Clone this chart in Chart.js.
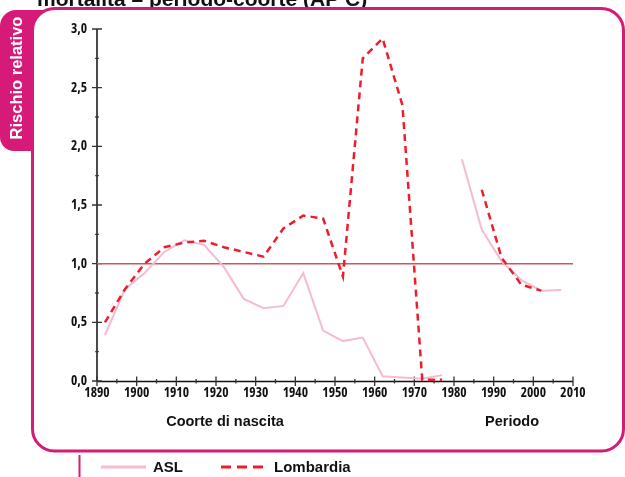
<!DOCTYPE html>
<html>
<head>
<meta charset="utf-8">
<script src="https://cdn.jsdelivr.net/npm/chart.js@4.4.1/dist/chart.umd.min.js"></script>
<style>
html,body{margin:0;padding:0;background:#fff;}
#wrap{position:relative;width:625px;height:477px;}
</style>
</head>
<body>
<div id="wrap"><canvas id="c" width="625" height="477"></canvas></div>
<script>
// ---- data ----
const cohortYears = [1892, 1897, 1902, 1907, 1912, 1917, 1922, 1927, 1932, 1937, 1942, 1947, 1952, 1957, 1962, 1967, 1972, 1977];
const aslCohort   = [0.39, 0.78, 0.92, 1.10, 1.20, 1.16, 0.97, 0.70, 0.62, 0.64, 0.92, 0.43, 0.34, 0.37, 0.04, 0.03, 0.02, 0.05];
const lomCohort   = [0.50, 0.78, 1.00, 1.14, 1.18, 1.195, 1.14, 1.10, 1.06, 1.30, 1.41, 1.385, 0.89, 2.75, 2.92, 2.35, 0.01, 0.01];
const periodYears = [1982, 1987, 1992, 1997, 2002, 2007];
const aslPeriod   = [1.89, 1.29, 1.02, 0.86, 0.77, 0.775];
const lomPeriod   = [null, 1.63, 1.05, 0.82, 0.77, null];
const xTicks = [1890, 1900, 1910, 1920, 1930, 1940, 1950, 1960, 1970, 1980, 1990, 2000, 2010];
const yTicks = [0, 0.5, 1.0, 1.5, 2.0, 2.5, 3.0];
const refValue = 1.0;
const seriesNames = ['ASL', 'Lombardia'];
const axisTitles = ['Coorte di nascita', 'Periodo'];
const tabTitle = 'Rischio relativo';
const chartTitle = 'mortalità – periodo-coorte (AP C)';

// ---- build ----
function pts(xs, ys){ return xs.map((x,i)=>({x:x, y:ys[i]})).filter(p=>p.y!==null); }
const gap = {x: 1979.5, y: null};
const aslData = pts(cohortYears, aslCohort).concat([gap], pts(periodYears, aslPeriod));
const lomData = pts(cohortYears, lomCohort).concat([gap], pts(periodYears, lomPeriod));
const refData = [{x: xTicks[0], y: refValue}, {x: xTicks[xTicks.length-1], y: refValue}];

const MAG = 'rgb(214,26,120)';
const PINK = 'rgb(246,186,212)';
const RED = 'rgb(236,30,45)';
const REF = 'rgb(214,84,84)';
const NARROW = '"Open Sans", "DejaVu Sans Condensed", sans-serif';
const SANS = '"Liberation Sans", Arial, sans-serif';

function rr(ctx, x, y, w, h, r){
  ctx.beginPath();
  ctx.roundRect(x, y, w, h, r);
}

const decor = {
  id: 'decor',
  beforeDraw(chart){
    const ctx = chart.ctx;
    ctx.save();
    ctx.fillStyle = '#fff';
    ctx.fillRect(0, 0, chart.width, chart.height);
    // title (clipped at top)
    ctx.fillStyle = '#111';
    ctx.font = 'bold 21px ' + SANS;
    ctx.textAlign = 'left';
    ctx.textBaseline = 'alphabetic';
    ctx.fillText(chartTitle, 37, 6);
    // tab
    ctx.fillStyle = MAG;
    rr(ctx, 0, 10, 48, 141, [16, 0, 0, 14]);
    ctx.fill();
    // frame
    rr(ctx, 32.5, 8.5, 591, 442.5, 22);
    ctx.fillStyle = '#fff';
    ctx.fill();
    ctx.lineWidth = 3;
    ctx.strokeStyle = MAG;
    ctx.stroke();
    // tab text
    ctx.save();
    ctx.translate(16.5, 78);
    ctx.rotate(-Math.PI/2);
    ctx.fillStyle = '#fff';
    ctx.font = 'bold 16.5px ' + SANS;
    ctx.textAlign = 'center';
    ctx.textBaseline = 'middle';
    ctx.fillText(tabTitle, 0, 1);
    ctx.restore();
    // small vertical line under frame
    ctx.beginPath();
    ctx.moveTo(79.5, 455);
    ctx.lineTo(79.5, 477);
    ctx.lineWidth = 2;
    ctx.strokeStyle = MAG;
    ctx.stroke();
    ctx.restore();
  },
  beforeDatasetsDraw(chart){
    const ctx = chart.ctx;
    const xs = chart.scales.x, ys = chart.scales.y;
    const x0 = xs.getPixelForValue(xTicks[0]), x1 = xs.getPixelForValue(xTicks[xTicks.length-1]);
    const y0 = ys.getPixelForValue(yTicks[0]), y1 = ys.getPixelForValue(yTicks[yTicks.length-1]);
    ctx.save();
    ctx.strokeStyle = '#111';
    ctx.lineWidth = 1.5;
    ctx.beginPath();
    ctx.moveTo(x0, y0 + 0.5); ctx.lineTo(x1, y0 + 0.5);
    ctx.moveTo(x0, y0); ctx.lineTo(x0, y1);
    ctx.stroke();
    ctx.strokeStyle = '#333';
    ctx.lineWidth = 1.3;
    ctx.beginPath();
    for (let i = 0; i < xTicks.length; i++){
      const px = xs.getPixelForValue(xTicks[i]);
      ctx.moveTo(px, y0 - 4.5); ctx.lineTo(px, y0 + 5);
      if (i < xTicks.length - 1){
        const pm = xs.getPixelForValue((xTicks[i] + xTicks[i+1]) / 2);
        ctx.moveTo(pm, y0 - 2); ctx.lineTo(pm, y0 + 2.5);
      }
    }
    for (let i = 0; i < yTicks.length; i++){
      const py = ys.getPixelForValue(yTicks[i]);
      ctx.moveTo(x0 - 5, py); ctx.lineTo(x0 + 5, py);
      if (i < yTicks.length - 1){
        const pm = ys.getPixelForValue((yTicks[i] + yTicks[i+1]) / 2);
        ctx.moveTo(x0 - 1.8, pm); ctx.lineTo(x0 + 1.8, pm);
      }
    }
    ctx.stroke();
    ctx.restore();
  },
  afterDraw(chart){
    const ctx = chart.ctx;
    ctx.save();
    ctx.fillStyle = '#111';
    ctx.font = 'bold 14.5px ' + SANS;
    ctx.textAlign = 'center';
    ctx.textBaseline = 'middle';
    ctx.fillText(axisTitles[0], 225, 422);
    ctx.fillText(axisTitles[1], 512, 422);
    // legend
    const ly = 467;
    ctx.lineWidth = 3;
    ctx.strokeStyle = PINK;
    ctx.beginPath(); ctx.moveTo(101, ly); ctx.lineTo(146, ly); ctx.stroke();
    ctx.strokeStyle = RED;
    ctx.setLineDash([10, 6]);
    ctx.beginPath(); ctx.moveTo(221, ly); ctx.lineTo(268, ly); ctx.stroke();
    ctx.setLineDash([]);
    ctx.font = 'bold 15px ' + SANS;
    ctx.textAlign = 'left';
    ctx.fillText(chart.data.datasets[0].label, 153, ly + 1);
    ctx.fillText(chart.data.datasets[1].label, 274, ly + 1);
    ctx.restore();
  }
};

const tickFont = {family: NARROW, size: 13.5, weight: 'condensed bold'};

new Chart(document.getElementById('c'), {
  type: 'line',
  data: {
    datasets: [
      {label: seriesNames[0], data: aslData, borderColor: PINK, borderWidth: 2, pointRadius: 0, spanGaps: false, order: 1, clip: false},
      {label: seriesNames[1], data: lomData, borderColor: RED, borderWidth: 2.5, borderDash: [7, 5], pointRadius: 0, spanGaps: false, order: 0, clip: false},
      {label: 'ref', data: refData, borderColor: REF, borderWidth: 1.5, pointRadius: 0, order: 2}
    ]
  },
  options: {
    responsive: false,
    animation: false,
    events: [],
    layout: {padding: {left: 0, top: 29, right: 52, bottom: 0}},
    plugins: {legend: {display: false}, tooltip: {enabled: false}},
    scales: {
      x: {
        type: 'linear', min: 1890, max: 2010,
        grid: {display: false, drawTicks: false},
        border: {display: false},
        afterBuildTicks: s => { s.ticks = xTicks.map(v => ({value: v})); },
        afterFit: s => { s.height = 96; },
        ticks: {
          padding: 4, color: '#111', maxRotation: 0, autoSkip: false,
          font: tickFont,
          callback: v => String(v)
        }
      },
      y: {
        type: 'linear', min: 0, max: 3,
        grid: {display: false, drawTicks: false},
        border: {display: false},
        afterBuildTicks: s => { s.ticks = yTicks.map(v => ({value: v})); },
        afterFit: s => { s.width = 97; },
        ticks: {
          padding: 10, color: '#111',
          font: tickFont,
          callback: v => Number(v).toFixed(1).replace('.', ',')
        }
      }
    }
  },
  plugins: [decor]
});
</script>
</body>
</html>
